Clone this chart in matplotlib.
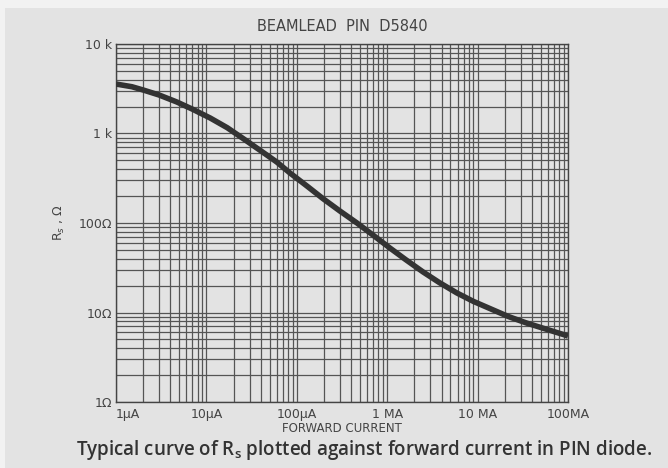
import numpy as np
import matplotlib
matplotlib.use("Agg")
import matplotlib.pyplot as plt
from matplotlib.patches import Rectangle
from matplotlib.ticker import LogLocator, NullFormatter

# forward current (A) and series resistance (ohm)
current = [1e-6, 1.5e-6, 2.0e-6, 3.0e-6, 4.7e-6, 7e-6, 11e-6, 17e-6, 25e-6, 40e-6,
           60e-6, 84e-6, 130e-6, 195e-6, 300e-6, 463e-6, 700e-6, 1.07e-3, 1.6e-3,
           2.49e-3, 3.8e-3, 5.92e-3, 9e-3, 14.8e-3, 22e-3, 35.2e-3, 55e-3, 92.7e-3, 100e-3]
rs = [3570, 3330, 3060, 2690, 2250, 1870, 1490, 1160, 890, 640,
      480, 362, 258, 187, 136, 100, 73, 52.6, 39,
      28.4, 21.5, 16.5, 13.3, 10.7, 9.0, 7.6, 6.6, 5.6, 5.45]

x_ticks = [1e-6, 1e-5, 1e-4, 1e-3, 1e-2, 1e-1]
x_labels = ["1\u00b5A", "10\u00b5A", "100\u00b5A", "1 MA", "10 MA", "100MA"]
y_ticks = [1, 10, 100, 1000, 10000]
y_labels = ["1\u03a9", "10\u03a9", "100\u03a9", "1 k", "10 k"]

fig = plt.figure(figsize=(6.68, 4.68), dpi=100)
fig.patch.set_facecolor("#f2f2f2")
bg = Rectangle((0.008, 0.0), 0.992, 0.983, transform=fig.transFigure,
               facecolor="#e3e3e3", edgecolor="none", zorder=-10)
fig.add_artist(bg)

ax = fig.add_axes([0.1737, 0.141, 0.6766, 0.765])
ax.set_zorder(5)
ax.set_facecolor("#e3e3e3")
ax.set_xscale("log")
ax.set_yscale("log")
ax.set_xlim(1e-6, 1e-1)
ax.set_ylim(1, 1e4)

ax.xaxis.set_minor_locator(LogLocator(base=10, subs=np.arange(2, 10)))
ax.yaxis.set_minor_locator(LogLocator(base=10, subs=np.arange(2, 10)))
ax.xaxis.set_minor_formatter(NullFormatter())
ax.yaxis.set_minor_formatter(NullFormatter())
ax.grid(True, which="both", color="#555555", linewidth=0.9)
ax.set_axisbelow(True)
for s in ax.spines.values():
    s.set_color("#444444")
    s.set_linewidth(1.0)

ax.set_xticks(x_ticks)
ax.set_xticklabels(x_labels)
ax.set_yticks(y_ticks)
ax.set_yticklabels(y_labels)
ax.tick_params(which="both", length=0, labelsize=9, colors="#444444", pad=3)
ax.tick_params(axis="x", pad=4)
ax.get_xticklabels()[0].set_horizontalalignment("left")

ax.plot(current, rs, color="#333333", linewidth=4, solid_capstyle="butt",
        solid_joinstyle="round", zorder=3)

ax.set_xlabel("FORWARD CURRENT", fontsize=8.5, color="#444444", labelpad=1)
ax.set_ylabel("R$_s$ , \u03a9", fontsize=9, color="#444444", labelpad=8)
ax.set_title("BEAMLEAD  PIN  D5840", fontsize=10.5, color="#444444", pad=9)

fig.text(0.545, 0.038, "Typical curve of R$_\\mathregular{s}$ plotted against forward current in PIN diode.",
         ha="center", va="center", fontsize=13.5, color="#333333",
         family="Open Sans", fontweight="semibold")

fig.savefig("out.png", dpi=100, facecolor=fig.get_facecolor())
